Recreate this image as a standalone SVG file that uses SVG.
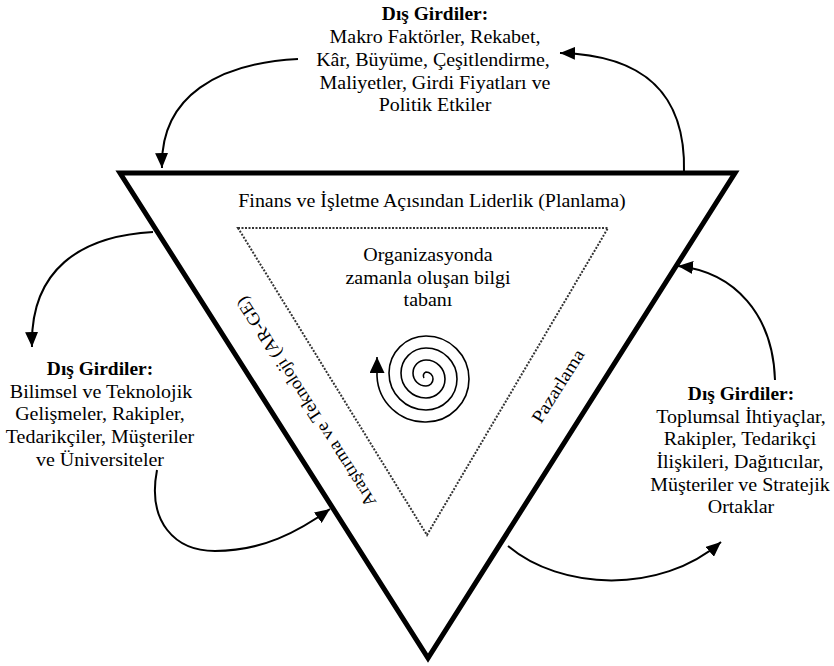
<svg xmlns="http://www.w3.org/2000/svg" width="834" height="666" viewBox="0 0 834 666">
  <style>
    text { font-family: "Liberation Serif", "Times New Roman", serif; font-size: 18px; fill: #000; text-anchor: middle; }
    .b { font-weight: bold; }
    .frame { fill: none; stroke: #000; stroke-width: 5; stroke-linejoin: miter; }
    .dots { fill: none; stroke: #333; stroke-width: 2; stroke-dasharray: 2 1.5; }
    .link { fill: none; stroke: #000; stroke-width: 2; marker-end: url(#ah); }
    .spiral { fill: none; stroke: #000; stroke-width: 1.6; marker-end: url(#ah2); }
  </style>
  <defs>
    <marker id="ah" viewBox="0 0 15 13" refX="15" refY="6.5" markerWidth="15" markerHeight="13" markerUnits="userSpaceOnUse" orient="auto">
      <path d="M0,0 L15,6.5 L0,13 z" fill="#000"/>
    </marker>
    <marker id="ah2" viewBox="0 0 16 15" refX="16" refY="7.5" markerWidth="16" markerHeight="15" markerUnits="userSpaceOnUse" orient="auto">
      <path d="M0,0 L16,7.5 L0,15 z" fill="#000"/>
    </marker>
  </defs>

  <rect width="834" height="666" fill="#fff"/>

  <!-- connectors between the outside inputs and the triangle -->
  <g id="connectors">
    <path class="link" d="M298,59 C220,63 160,95 162,168"/>
    <path class="link" d="M684,172 C686,90 640,55 560,53"/>
    <path class="link" d="M153,232 C80,236 30,270 32,347"/>
    <path class="link" d="M157,470 C147,522 175,551 215,551 C262,551 298,532 330,509"/>
    <path class="link" d="M508,546 C560,590 660,595 721,542"/>
    <path class="link" d="M775,380 C773,315 735,272 678,266"/>
  </g>

  <!-- outer triangle and its side labels (text widened slightly with scale) -->
  <g id="triangle">
    <polygon class="frame" points="120,173 735,173 428,658"/>
    <text transform="translate(432,207) scale(1.11,1)">Finans ve İşletme Açısından Liderlik (Planlama)</text>
    <text transform="translate(306,402) rotate(-122.4) scale(1.03,1)" y="6">Araştırma ve Teknoloji (AR-GE)</text>
    <text transform="translate(558,386) rotate(-57.8) scale(1.11,1)" y="6">Pazarlama</text>
  </g>

  <!-- inner knowledge base -->
  <g id="knowledge-base">
    <polygon class="dots" points="238,228 608,228 427,535"/>
    <text transform="translate(428,261) scale(1.11,1)">Organizasyonda</text>
    <text transform="translate(428,284) scale(1.11,1)">zamanla oluşan bilgi</text>
    <text transform="translate(428,306) scale(1.11,1)">tabanı</text>
  </g>

  <g id="spiral">
    <path class="spiral" d="M424,378 A4,4 0 0 1 426,372 A7,7 0 0 1 426,386 A13,13 0 0 1 426,360 A19,19 0 0 1 426,398 A25,25 0 0 1 426,348 A31,31 0 0 1 426,410 A37,37 0 0 1 426,336 A43,43 0 0 1 426,422 A48,48 0 0 1 377,376 L377,357"/>
  </g>

  <g id="inputs-top">
    <text class="b" transform="translate(435,20) scale(1.08,1)">Dış Girdiler:</text>
    <text transform="translate(435,43) scale(1.11,1)">Makro Faktörler, Rekabet,</text>
    <text transform="translate(433,66) scale(1.11,1)">Kâr, Büyüme, Çeşitlendirme,</text>
    <text transform="translate(435,89) scale(1.11,1)">Maliyetler, Girdi Fiyatları ve</text>
    <text transform="translate(435,111) scale(1.11,1)">Politik Etkiler</text>
  </g>

  <g id="inputs-left">
    <text class="b" transform="translate(100,375) scale(1.08,1)">Dış Girdiler:</text>
    <text transform="translate(101,398) scale(1.11,1)">Bilimsel ve Teknolojik</text>
    <text transform="translate(100,420) scale(1.11,1)">Gelişmeler, Rakipler,</text>
    <text transform="translate(100,443) scale(1.11,1)">Tedarikçiler, Müşteriler</text>
    <text transform="translate(100,466) scale(1.11,1)">ve Üniversiteler</text>
  </g>

  <g id="inputs-right">
    <text class="b" transform="translate(741,400) scale(1.08,1)">Dış Girdiler:</text>
    <text transform="translate(741,423) scale(1.11,1)">Toplumsal İhtiyaçlar,</text>
    <text transform="translate(740,445) scale(1.11,1)">Rakipler, Tedarikçi</text>
    <text transform="translate(740,468) scale(1.11,1)">İlişkileri, Dağıtıcılar,</text>
    <text transform="translate(740,491) scale(1.11,1)">Müşteriler ve Stratejik</text>
    <text transform="translate(741,513) scale(1.11,1)">Ortaklar</text>
  </g>
</svg>
